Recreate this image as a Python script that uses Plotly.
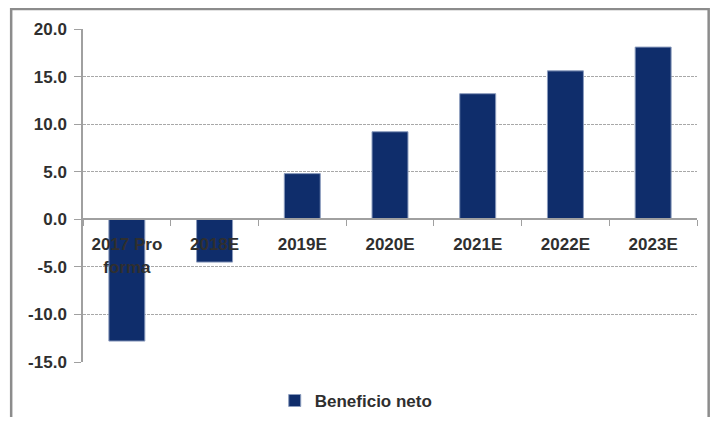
import plotly.graph_objects as go

# datos: beneficio neto por año
anios = ["2017 Pro<br>forma", "2018E", "2019E", "2020E", "2021E", "2022E", "2023E"]
beneficio = [-12.8, -4.5, 4.8, 9.2, 13.2, 15.6, 18.1]
ticks_y = [-15, -10, -5, 0, 5, 10, 15, 20]
# etiquetas del eje y con guion normal (como en Excel)
etiquetas_y = ["%.1f" % v for v in ticks_y]

fuente = dict(family="Liberation Sans", size=17, color="#2f2f2f", weight="bold")

barras = go.Bar(x=anios, y=beneficio, name="Beneficio neto",
                marker=dict(color="#0f2d6b", line=dict(color="#8a9bbd", width=1)),
                width=0.41)

# la página añade 8px de margen al body, se compensa aquí
layout = go.Layout(
    width=703, height=409,
    margin=dict(l=75, r=14, t=21, b=55, autoexpand=False),
    paper_bgcolor="white", plot_bgcolor="white",
    font=fuente,
    showlegend=True,
    legend=dict(orientation="h", x=0.445, y=-0.117, xanchor="center", yanchor="middle",
                font=fuente, itemwidth=30),
    yaxis=dict(range=[-15, 20], tickvals=ticks_y, ticktext=etiquetas_y,
               showgrid=True, gridcolor="#a8a8a8", griddash="3px,1px", gridwidth=1,
               showline=True, linecolor="#a0a0a0", linewidth=1.5,
               ticks="outside", ticklen=7, tickcolor="#a0a0a0", ticklabelstandoff=4,
               zeroline=False, tickfont=fuente, automargin=False),
    xaxis=dict(anchor="free", position=15 / 35, showline=True, linecolor="#a0a0a0",
               linewidth=1.5, ticks="outside", tickson="boundaries", ticklen=6,
               tickcolor="#a0a0a0", ticklabelstandoff=10, showgrid=False,
               tickfont=fuente, automargin=False),
    shapes=[dict(type="rect", xref="paper", yref="paper",
                 x0=-0.117, x1=1.019, y0=-0.3, y1=1.06,
                 line=dict(color="#8c8c8c", width=2.5))],
)

fig = go.Figure(data=[barras], layout=layout)
fig.write_html("out.html")
